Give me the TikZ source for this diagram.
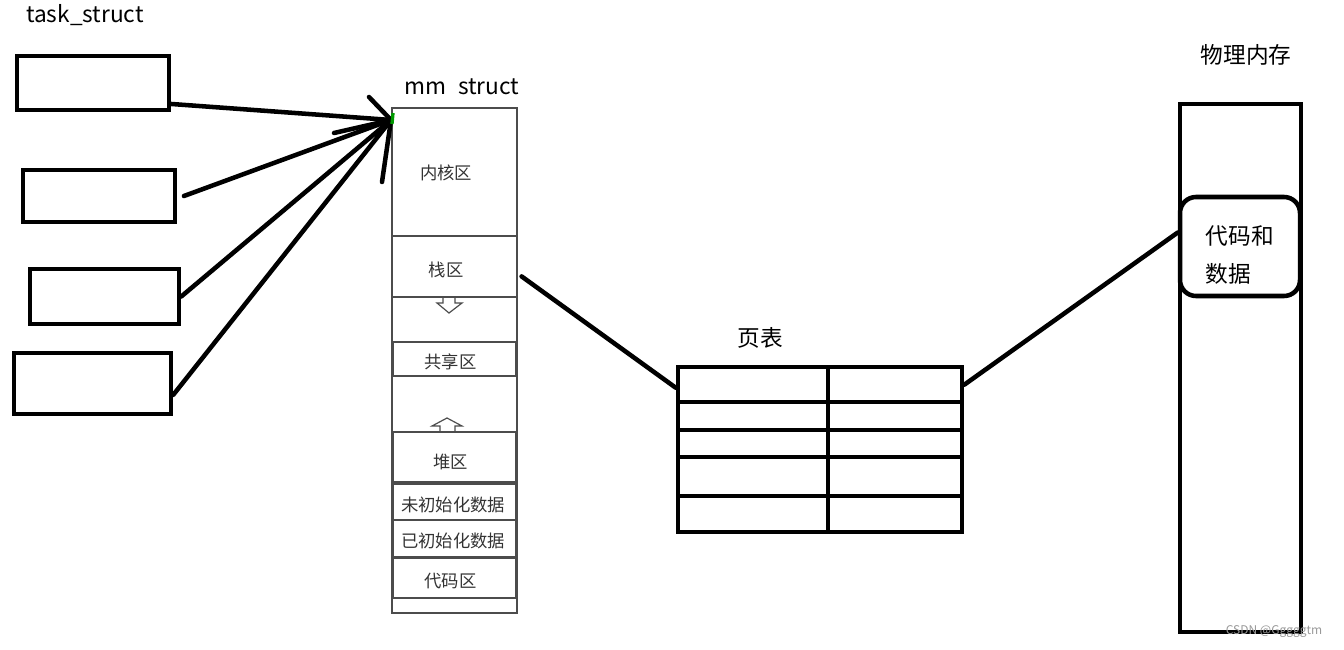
\documentclass[tikz,border=0pt]{standalone}
\usepackage{fontspec}
\setmainfont{Noto Sans CJK SC}
\usetikzlibrary{fit}

\begin{document}
\begin{tikzpicture}[x=0.75pt,y=-0.75pt,
    box/.style={draw,line width=3.4pt,inner sep=0pt},
    seg/.style={draw=black!70,line width=0.9pt,inner sep=0pt},
    lbl/.style={text=black!80,font=\fontsize{13}{15}\selectfont},
    inlbl/.style={lbl,xshift=-3pt,yshift=-2pt},
    big/.style={font=\fontsize{17}{20}\selectfont},
    arr/.style={line width=3.4pt,line cap=round}]
  \useasboundingbox (0,0) rectangle (1344,649);

  \node[big] (tasklbl) at (85,15) {task\_struct};
  \node[box,fit={(17,56) (169,110)}] (t1) {};
  \node[box,fit={(23,170) (175,222)}] (t2) {};
  \node[box,fit={(30,269) (179,324)}] (t3) {};
  \node[box,fit={(14,353) (171,414)}] (t4) {};

  \node[big] (mmlbl) at (462,87) {mm\enspace struct};
  \node[seg,fit={(392,108) (517,613)}] (mm) {};
  \draw[seg] (392,236) -- (517,236) (392,297) -- (517,297);
  \node[lbl] (kernel) at (446,173) {内核区};
  \node[lbl] (stack) at (446,270) {栈区};
  \draw[seg] (443,297) -- (455,297) -- (455,303) -- (462,303) -- (449,313) -- (437,303) -- (443,303) -- cycle;
  \node[seg,fit={(393,342) (516,376)},label={[inlbl]center:共享区}] (shared) {};
  \draw[seg] (447,418) -- (462,426) -- (455,426) -- (455,432) -- (440,432) -- (440,426) -- (432,426) -- cycle;
  \node[seg,fit={(393,432) (516,482)},label={[inlbl,yshift=-2pt]center:堆区}] (heap) {};
  \node[seg,fit={(393,484) (516,520)},label={[inlbl,xshift=2pt]center:未初始化数据}] (bss) {};
  \node[seg,fit={(393,520) (516,557)},label={[inlbl,xshift=2pt]center:已初始化数据}] (data) {};
  \node[seg,fit={(393,558) (516,598)},label={[inlbl]center:代码区}] (text) {};

  \coordinate (tip) at (391,120);
  \draw[arr] (t1.-15) -- (tip);
  \draw[arr] ([xshift=5pt]t2.east) -- (tip);
  \draw[arr] (t3.east) -- (tip);
  \draw[arr] (t4.-8) -- (tip);
  \draw[arr] (tip) -- +(-22,-23);
  \draw[arr] (tip) -- +(-57,13);
  \draw[arr] (tip) -- +(-9,62);
  \draw[green!60!black,line width=2.5pt] (393,113) -- (392,124);

  \node[big] (ptlbl) at (760,338) {页表};
  \node[box,fit={(678,367) (962,532)}] (pt) {};
  \draw[line width=3.4pt] (678,402) -- (962,402) (678,430) -- (962,430)
    (678,457) -- (962,457) (678,496) -- (962,496) (828,367) -- (828,532);

  \node[big] (physlbl) at (1246,55) {物理内存};
  \node[box,fit={(1180,104) (1301,632)}] (phys) {};
  \node[box,rounded corners=12pt,fit={(1180,197) (1300,296)}] (code) {};
  \node[anchor=west,align=left,font=\fontsize{17}{28.5}\selectfont] (codelbl) at (1201,255) {代码和\\数据};

  \draw[arr] ([shift={(4,169)}]mm.north east) -- ([shift={(0,23)}]pt.north west);
  \draw[arr] ([shift={(0,20)}]pt.north east) -- ([shift={(0,-14)}]code.west);

  \node[text=black!40,font=\fontsize{9}{10}\selectfont] (mark) at (1274,632) {CSDN @Gggggtm};
\end{tikzpicture}
\end{document}
